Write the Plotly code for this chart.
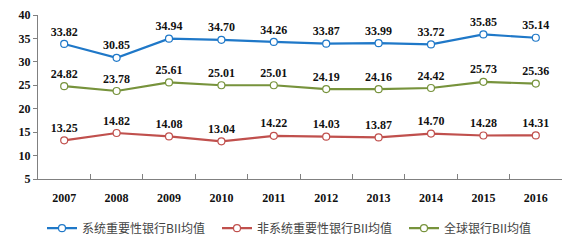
import plotly.graph_objects as go

years = ["2007", "2008", "2009", "2010", "2011", "2012", "2013", "2014", "2015", "2016"]
sib = [33.82, 30.85, 34.94, 34.70, 34.26, 33.87, 33.99, 33.72, 35.85, 35.14]
nonsib = [13.25, 14.82, 14.08, 13.04, 14.22, 14.03, 13.87, 14.70, 14.28, 14.31]
globalb = [24.82, 23.78, 25.61, 25.01, 25.01, 24.19, 24.16, 24.42, 25.73, 25.36]

names = ["系统重要性银行BII均值", "非系统重要性银行BII均值", "全球银行BII均值"]
colors = ["#1F78C8", "#C0504D", "#77933C"]
legend_ids = ["legend", "legend2", "legend3"]
legend_x = [42, 217, 404]

fig = go.Figure()
for name, vals, c, lid in zip(names, [sib, nonsib, globalb], colors, legend_ids):
    fig.add_trace(go.Scatter(
        x=years, y=vals, name=name, mode="lines+markers+text", legend=lid,
        line=dict(color=c, width=2.2),
        marker=dict(symbol="circle", size=7, color="white", line=dict(color=c, width=1.2)),
        text=[f"{v:.2f}" for v in vals], textposition="top center",
        textfont=dict(family="Liberation Serif", size=12, color="#111111", weight="bold"),
        cliponaxis=False,
    ))

leg_common = dict(orientation="h", xref="container", xanchor="left",
                  yref="container", y=0.08, yanchor="middle",
                  font=dict(family="Noto Sans CJK SC", size=12, color="#444444"),
                  bgcolor="rgba(0,0,0,0)")

fig.update_layout(
    width=576, height=248,
    margin=dict(l=38, r=14, t=15, b=69, autoexpand=False),
    paper_bgcolor="white", plot_bgcolor="white",
    showlegend=True,
    legend=dict(x=legend_x[0] / 576, **leg_common),
    legend2=dict(x=legend_x[1] / 576, **leg_common),
    legend3=dict(x=legend_x[2] / 576, **leg_common),
    xaxis=dict(type="category", range=[-0.5, 9.5], showline=True, linecolor="#808080", linewidth=1,
               ticks="inside", tickson="boundaries", ticklen=5, tickcolor="#808080",
               showgrid=False, zeroline=False, ticklabelstandoff=8,
               tickfont=dict(family="Liberation Serif", size=12, color="#111111", weight="bold")),
    yaxis=dict(range=[5, 40], dtick=5, showline=True, linecolor="#808080", linewidth=1,
               ticks="outside", ticklen=4, tickcolor="#808080", showgrid=False, zeroline=False,
               tickfont=dict(family="Liberation Serif", size=12, color="#111111", weight="bold")),
)
fig.write_html("out.html")
